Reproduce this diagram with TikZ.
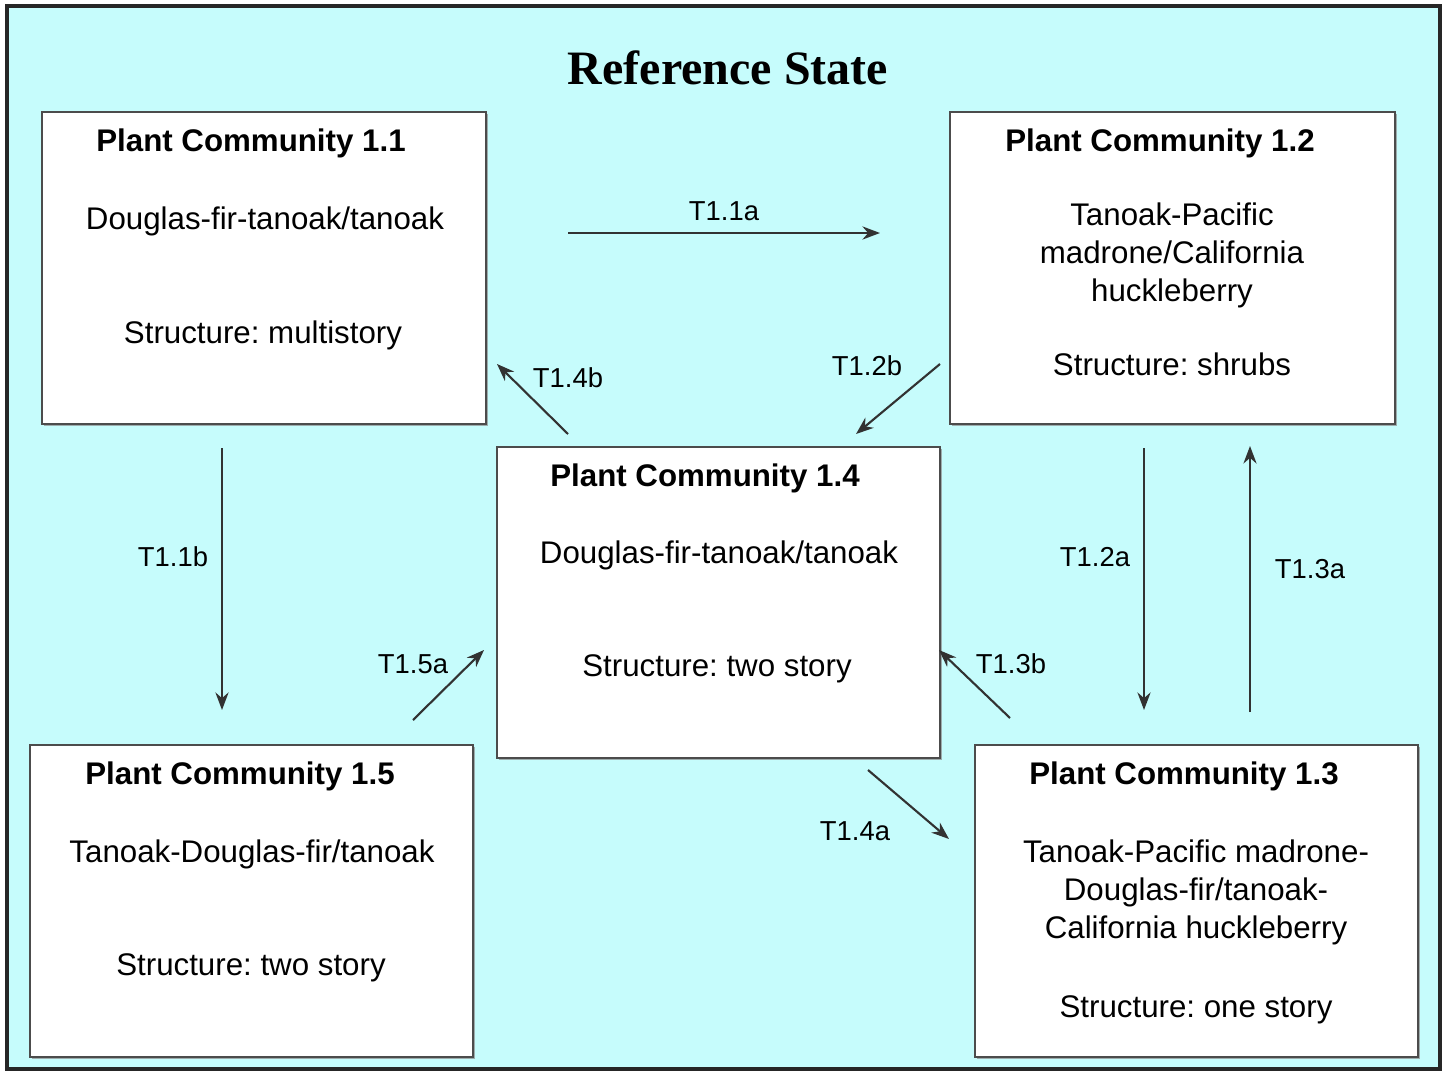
\documentclass[tikz,border=0pt]{standalone}
\usepackage{fontspec}
\setmainfont{Liberation Sans}
\newfontfamily\titlefont{Liberation Serif}
\usetikzlibrary{arrows.meta,shadows}
\frenchspacing
\definecolor{bgcyan}{RGB}{198,252,252}
\definecolor{linegray}{RGB}{50,50,50}
\tikzset{
  pcbox/.style={draw=black!70, line width=1.3pt, fill=white, inner sep=0pt,
    drop shadow={shadow xshift=1.2pt, shadow yshift=-1.2pt, fill=black!45, opacity=0.7}},
  pctitle/.style={inner sep=0pt, font=\fontsize{17.8}{21.5}\selectfont\bfseries},
  pctext/.style={inner sep=0pt, align=center, font=\fontsize{17.8}{21.6}\selectfont},
  trans/.style={draw=linegray, line width=1.2pt, -{Stealth[length=10pt,width=7.5pt]}},
  translabel/.style={inner sep=0pt, font=\fontsize{15.6}{18}\selectfont},
}
\begin{document}
\begin{tikzpicture}[x=0.02cm, y=-0.02cm]
\useasboundingbox (0,0) rectangle (1447,1075);
\fill[white] (0,0) rectangle (1447,1075);
\draw[fill=bgcyan, draw=black!85, line width=2pt] (7,6) rectangle (1440,1069);

\node[inner sep=0pt, font=\titlefont\fontsize{27.3}{32}\selectfont\bfseries] (title) at (728,68) {Reference State};

% boxes
\node[pcbox, minimum width=8.88cm, minimum height=6.24cm] (b11) at (264,268) {};
\node[pcbox, minimum width=8.9cm, minimum height=6.24cm] (b12) at (1172.5,268) {};
\node[pcbox, minimum width=8.86cm, minimum height=6.22cm] (b14) at (718.5,602.5) {};
\node[pcbox, minimum width=8.86cm, minimum height=6.24cm] (b15) at (251.5,901) {};
\node[pcbox, minimum width=8.86cm, minimum height=6.24cm] (b13) at (1196.5,901) {};

% box texts
\node[pctitle] (t11) at (251,143) {Plant Community 1.1};
\node[pctext] (s11a) at (265,221) {Douglas-fir-tanoak/tanoak};
\node[pctext] (s11b) at (263,335) {Structure: multistory};

\node[pctitle] (t12) at (1160,143) {Plant Community 1.2};
\node[pctext] (s12a) at (1172,255) {Tanoak-Pacific\\madrone/California\\huckleberry};
\node[pctext] (s12b) at (1172,364) {Structure: shrubs};

\node[pctitle] (t14) at (705,478) {Plant Community 1.4};
\node[pctext] (s14a) at (719,555) {Douglas-fir-tanoak/tanoak};
\node[pctext] (s14b) at (717,669) {Structure: two story};

\node[pctitle] (t15) at (240,776) {Plant Community 1.5};
\node[pctext] (s15a) at (252,854) {Tanoak-Douglas-fir/tanoak};
\node[pctext] (s15b) at (251,968) {Structure: two story};

\node[pctitle] (t13) at (1184,776) {Plant Community 1.3};
\node[pctext] (s13a) at (1196,892) {Tanoak-Pacific madrone-\\Douglas-fir/tanoak-\\California huckleberry};
\node[pctext] (s13b) at (1196,1010) {Structure: one story};

% arrow endpoints
\coordinate (a11s) at (568,233);  \coordinate (a11e) at (880,233);
\coordinate (a14bs) at (568,434); \coordinate (a14be) at (497,364);
\coordinate (a12bs) at (940,364); \coordinate (a12be) at (856,434);
\coordinate (a11bs) at (222,448); \coordinate (a11be) at (222,710);
\coordinate (a15s) at (413,720);  \coordinate (a15e) at (484,650);
\coordinate (a12as) at (1144,448); \coordinate (a12ae) at (1144,710);
\coordinate (a13as) at (1250,712); \coordinate (a13ae) at (1250,446);
\coordinate (a13bs) at (1010,718); \coordinate (a13be) at (939,650);
\coordinate (a14as) at (868,770); \coordinate (a14ae) at (949,839);

\draw[trans] (a11s) -- (a11e);
\draw[trans] (a14bs) -- (a14be);
\draw[trans] (a12bs) -- (a12be);
\draw[trans] (a11bs) -- (a11be);
\draw[trans] (a15s) -- (a15e);
\draw[trans] (a12as) -- (a12ae);
\draw[trans] (a13as) -- (a13ae);
\draw[trans] (a13bs) -- (a13be);
\draw[trans] (a14as) -- (a14ae);

% labels
\node[translabel] (l11a) at (724,211) {T1.1a};
\node[translabel] (l14b) at (568,378) {T1.4b};
\node[translabel] (l12b) at (867,366) {T1.2b};
\node[translabel] (l11b) at (173,557) {T1.1b};
\node[translabel] (l15a) at (413,664) {T1.5a};
\node[translabel] (l12a) at (1095,557) {T1.2a};
\node[translabel] (l13a) at (1310,569) {T1.3a};
\node[translabel] (l13b) at (1011,664) {T1.3b};
\node[translabel] (l14a) at (855,831) {T1.4a};
\end{tikzpicture}
\end{document}
